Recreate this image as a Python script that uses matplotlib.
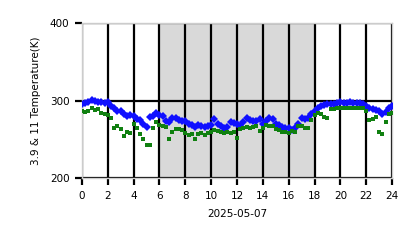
import matplotlib
matplotlib.use("Agg")
import matplotlib.pyplot as plt
import numpy as np

hours = [i * 0.25 for i in range(97)]

temp_39 = [296, 297, 298, 301, 299, 298, 298, 297, 298, 293, 291, 287, 286, 283, 280, 281,
           280, 276, 275, 270, 266, 279, 280, 284, 281, 280, 273, 272, 278, 277, 275, 274,
           273, 270, 268, 266, 268, 267, 266, 267, 268, 276, 270, 267, 265, 266, 272, 271,
           270, 267, 272, 278, 275, 273, 274, 276, 270, 274, 277, 276, 270, 268, 266, 265,
           264, 262, 265, 270, 278, 276, 278, 283, 287, 290, 293, 294, 295, 296, 296, 297,
           298, 297, 297, 298, 297, 297, 297, 296, 293, 291, 289, 288, 286, 283, 285, 290,
           293]

temp_11 = [286, 285, 287, 290, 288, 289, 284, 283, 281, 278, 265, 267, 263, 254, 260, 258,
           270, 265, 257, 250, 243, 243, 265, 272, 268, 267, 266, 250, 260, 263, 263, 262,
           258, 256, 257, 251, 257, 258, 256, 258, 260, 262, 261, 260, 258, 259, 258, 260,
           252, 263, 264, 266, 265, 266, 267, 261, 265, 268, 267, 267, 263, 262, 260, 259,
           258, 261, 260, 267, 267, 265, 265, 275, 282, 284, 283, 279, 278, 289, 289, 290,
           291, 291, 291, 291, 290, 290, 290, 291, 287, 275, 276, 279, 259, 257, 272, 283,
           284]

xticks = list(range(0, 25, 2))
yticks = [200, 300, 400]
night_start, night_end = 6, 18

fig = plt.figure(figsize=(4.18, 2.48), dpi=100)
ax = fig.add_axes([0.196, 0.282, 0.742, 0.625])

ax.axvspan(night_start, night_end, color="#d9d9d9", zorder=0, lw=0)
ax.plot(hours, temp_39, linestyle="none", marker="D", markersize=3.6,
        color="#1010ff", markeredgewidth=0, zorder=3)
ax.plot(hours, temp_11, linestyle="none", marker="s", markersize=3.0,
        color="#108010", markeredgewidth=0, zorder=4)

ax.set_xlim(0, 24)
ax.set_ylim(200, 400)
ax.set_xticks(xticks)
ax.set_xticklabels([str(t) for t in xticks])
ax.set_yticks(yticks)
ax.grid(True, color="black", linewidth=1.6, zorder=1)
ax.set_axisbelow(True)
for s in ax.spines.values():
    s.set_color("#cccccc")
    s.set_linewidth(1.0)
ax.tick_params(axis="both", direction="out", length=5, width=1.6, labelsize=7.5, pad=4)
ax.set_xlabel("2025-05-07", fontsize=7.5, labelpad=6)
ax.set_ylabel("3.9 & 11 Temperature(K)", fontsize=7.5, labelpad=6)

fig.savefig("out.png", dpi=100)
